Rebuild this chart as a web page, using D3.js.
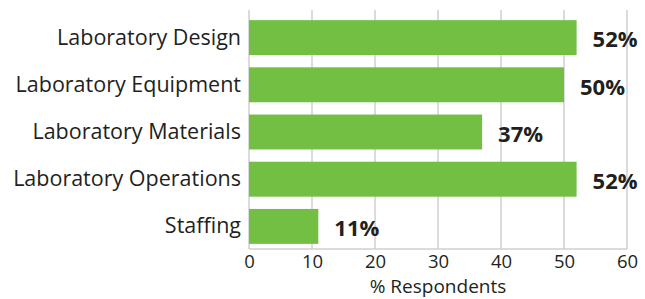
<!DOCTYPE html>
<html><head><meta charset="utf-8">
<script src="https://cdn.jsdelivr.net/npm/d3@7"></script>
<style>body{margin:0;background:#fff}svg{display:block}</style>
</head><body>
<svg id="c" width="645" height="299"></svg>
<script>
const categories = ["Laboratory Design","Laboratory Equipment","Laboratory Materials","Laboratory Operations","Staffing"];
const values = [52,50,37,52,11];
const valueLabels = ["52%","50%","37%","52%","11%"];
const xTicks = [0,10,20,30,40,50,60];
const xTitle = "% Respondents";

(function(){
const svg = d3.select("#c");
const font = "'Open Sans', sans-serif";
const x = d3.scaleLinear().domain([0,60]).range([249,627]);
const y = d3.scaleBand().domain(categories).range([14,250]).paddingInner(0.26).paddingOuter(0.13);
const yTop = 10, yBottom = 249;

svg.append("g").selectAll("line").data(xTicks).join("line")
  .attr("x1",d=>x(d)).attr("x2",d=>x(d)).attr("y1",yTop).attr("y2",yBottom)
  .attr("stroke","#cfcfcf").attr("stroke-width",1.5);
svg.append("line").attr("x1",x(0)).attr("x2",x(60)).attr("y1",yBottom).attr("y2",yBottom)
  .attr("stroke","#cfcfcf").attr("stroke-width",1.5);

svg.append("g").selectAll("rect").data(categories).join("rect")
  .attr("x",x(0)).attr("y",d=>y(d)).attr("height",y.bandwidth())
  .attr("width",(d,i)=>x(values[i])-x(0)).attr("fill","#72bf44");

svg.append("g").selectAll("text").data(categories).join("text")
  .attr("x",241).attr("y",d=>y(d)+y.bandwidth()/2).attr("dy","0.33em")
  .attr("text-anchor","end").attr("font-family",font).attr("font-size",21.5)
  .attr("fill","#231f20").text(d=>d);

svg.append("g").selectAll("text").data(categories).join("text")
  .attr("x",(d,i)=>x(values[i])+16).attr("y",d=>y(d)+y.bandwidth()/2+2).attr("dy","0.35em")
  .attr("font-family",font).attr("font-size",22).attr("font-weight","bold")
  .attr("fill","#231f20").text((d,i)=>valueLabels[i]);

const ax = d3.axisBottom(x).tickValues(xTicks).tickSize(0).tickPadding(0).tickFormat(d3.format("d"));
const g = svg.append("g").attr("transform",`translate(0,${yBottom+6})`).call(ax);
g.select(".domain").remove();
g.selectAll("text").attr("font-family",font).attr("font-size",18.5).attr("fill","#231f20").attr("dy","0.71em");

svg.append("text").attr("x",(x(0)+x(60))/2).attr("y",293).attr("text-anchor","middle")
  .attr("font-family",font).attr("font-size",19).attr("fill","#231f20").text(xTitle);
})();
</script>
</body></html>
